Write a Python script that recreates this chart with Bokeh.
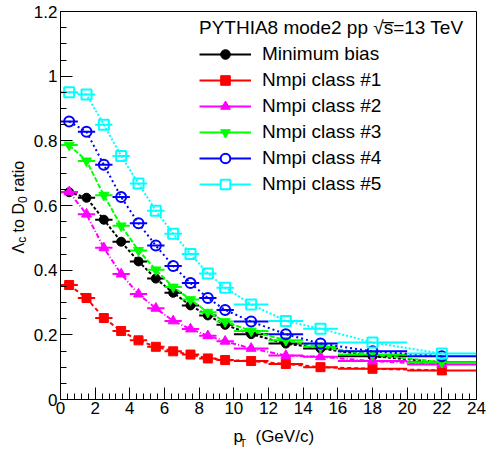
import numpy as np
from bokeh.plotting import figure
from bokeh.layouts import column, row
from bokeh.models import Range1d, FixedTicker, Legend, LegendItem, ColumnDataSource
from bokeh.core.properties import value
from bokeh.embed import file_html
from bokeh.resources import INLINE

# ---- data ----
bin_low = [0, 1, 2, 3, 4, 5, 6, 7, 8, 9, 10, 12, 14, 16, 20]
bin_high = [1, 2, 3, 4, 5, 6, 7, 8, 9, 10, 12, 14, 16, 20, 24]
pt = [0.5, 1.5, 2.5, 3.5, 4.5, 5.5, 6.5, 7.5, 8.5, 9.5, 11, 13, 15, 18, 22]

minimum_bias = [0.641, 0.624, 0.556, 0.488, 0.427, 0.374, 0.330, 0.291, 0.260, 0.231, 0.202, 0.173, 0.158, 0.134, 0.115]
nmpi_1 = [0.354, 0.314, 0.252, 0.212, 0.183, 0.163, 0.149, 0.139, 0.127, 0.122, 0.119, 0.110, 0.100, 0.095, 0.090]
nmpi_2 = [0.642, 0.573, 0.469, 0.388, 0.326, 0.282, 0.243, 0.218, 0.197, 0.180, 0.158, 0.136, 0.132, 0.119, 0.108]
nmpi_3 = [0.787, 0.738, 0.632, 0.537, 0.461, 0.401, 0.348, 0.309, 0.270, 0.241, 0.212, 0.183, 0.163, 0.139, 0.115]
nmpi_4 = [0.860, 0.828, 0.726, 0.626, 0.545, 0.476, 0.413, 0.360, 0.314, 0.277, 0.241, 0.202, 0.173, 0.149, 0.134]
nmpi_5 = [0.950, 0.943, 0.850, 0.753, 0.668, 0.584, 0.513, 0.450, 0.390, 0.346, 0.294, 0.243, 0.219, 0.176, 0.142]

series_names = ["Minimum bias", "Nmpi class #1", "Nmpi class #2",
                "Nmpi class #3", "Nmpi class #4", "Nmpi class #5"]
series_values = [minimum_bias, nmpi_1, nmpi_2, nmpi_3, nmpi_4, nmpi_5]

x_ticks = [0, 2, 4, 6, 8, 10, 12, 14, 16, 18, 20, 22, 24]
x_tick_labels = ["0", "2", "4", "6", "8", "10", "12", "14", "16", "18", "20", "22", "24"]
y_ticks = [0, 0.2, 0.4, 0.6, 0.8, 1.0, 1.2]
y_tick_labels = ["0", "0.2", "0.4", "0.6", "0.8", "1", "1.2"]

legend_title = "PYTHIA8 mode2 pp \u221As\u0305=13 TeV"

# axis title pieces (text with sub-scripts)
y_title_parts = ["\u039B", "c", "to D", "0", "ratio"]
x_title_parts = ["p", "T", "(GeV/c)"]

# ---- styles ----
colors = ["#000000", "#ff0000", "#ff00ff", "#00ff00", "#0000ff", "#00ffff"]
markers = ["circle", "square", "triangle", "inverted_triangle", "circle", "square"]
filled = [True, True, True, True, False, False]
msizes = [9, 9, 10, 10, 10, 10]
lsizes = [8, 8, 8, 8, 9, 9]
dashes = ["3 2", "4 3", "5 2 1 2", "5 2", "2 3", "2 2"]

FONT = "Liberation Sans"
TOP, BOTTOM, LEFT, RIGHT = 11, 21, 29, 10
YLAB_W = 30
P_W, P_H = 456, 420
XLAB_H = 449 - P_H

y_range = Range1d(0, 1.2)
x_range = Range1d(0, 24)

p = figure(width=P_W, height=P_H, output_backend="svg", toolbar_location=None,
           x_range=x_range, y_range=y_range,
           min_border_left=LEFT, min_border_right=RIGHT, min_border_top=TOP, min_border_bottom=BOTTOM)
p.background_fill_color = "white"
p.border_fill_color = "white"
p.outline_line_color = "black"
p.outline_line_width = 1
p.xgrid.visible = False
p.ygrid.visible = False

p.xaxis.ticker = FixedTicker(ticks=x_ticks, minor_ticks=list(np.arange(0, 24.001, 0.4)))
p.yaxis.ticker = FixedTicker(ticks=y_ticks, minor_ticks=list(np.arange(0, 1.2001, 0.05)))
p.xaxis.major_label_overrides = {t: l for t, l in zip(x_ticks, x_tick_labels)}
p.yaxis.major_label_overrides = {t: l for t, l in zip(y_ticks, y_tick_labels)}
for ax in (p.xaxis[0], p.yaxis[0]):
    ax.major_tick_in = 12
    ax.major_tick_out = 0
    ax.minor_tick_in = 6
    ax.minor_tick_out = 0
    ax.major_tick_line_color = "black"
    ax.minor_tick_line_color = "black"
    ax.axis_line_color = "black"
    ax.major_label_text_font = FONT
    ax.major_label_text_font_size = "17px"
    ax.major_label_text_color = "black"
p.xaxis.major_label_standoff = 2
p.yaxis.major_label_standoff = 3

items = []
for name, vals, c, m, f, s, ls, d in zip(series_names, series_values, colors, markers,
                                          filled, msizes, lsizes, dashes):
    src = ColumnDataSource(dict(x=pt, y=vals, x0=bin_low, x1=bin_high))
    seg = p.segment(x0="x0", y0="y", x1="x1", y1="y", source=src, line_color=c, line_width=2)
    p.line(x="x", y="y", source=src, line_color=c, line_width=2, line_dash=d)
    if f:
        p.scatter(x="x", y="y", source=src, marker=m, size=s,
                  fill_color=c, line_color=c, line_width=1)
    else:
        p.scatter(x="x", y="y", source=src, marker=m, size=s,
                  fill_color="white", fill_alpha=0.0, line_color=c, line_width=2)
    # legend-only proxies (no plotted position)
    proxy = ColumnDataSource(dict(x=[np.nan], y=[np.nan]))
    vtick = p.scatter(x="x", y="y", source=proxy, marker="dash", angle=np.pi / 2, size=18,
                      line_color=c, line_width=2)
    lm = p.scatter(x="x", y="y", source=proxy, marker=m, size=ls,
                   fill_color=(c if f else "white"), line_color=c,
                   line_width=(1 if f else 2))
    items.append(LegendItem(label=name, renderers=[seg, vtick, lm]))

legend = Legend(items=items, location=(139, 203), padding=0, margin=0, spacing=2,
                glyph_width=52, glyph_height=24, label_height=24, label_standoff=11,
                label_text_font=FONT, label_text_font_size="19px", label_text_color="black",
                title=legend_title, title_text_font=FONT, title_text_font_size="19px",
                title_text_font_style="normal", title_text_color="black", title_standoff=3,
                background_fill_alpha=0.0, border_line_alpha=0.0)
p.add_layout(legend, "center")

# ---- y title strip (shares the y scale) ----
ylab = figure(width=YLAB_W, height=P_H, output_backend="svg", toolbar_location=None,
              x_range=Range1d(0, YLAB_W), y_range=y_range,
              min_border_left=0, min_border_right=0, min_border_top=TOP, min_border_bottom=BOTTOM)
ylab.axis.visible = False
ylab.grid.visible = False
ylab.outline_line_color = None
ylab_src = ColumnDataSource(dict(
    x=[18, 21.5, 18, 21.5, 18],
    y=[0.4516, 0.4846, 0.5168, 0.6077, 0.6421],
    text=y_title_parts,
    size=["16px", "12px", "16px", "12px", "16px"]))
ylab.text(x="x", y="y", text="text", source=ylab_src, angle=np.pi / 2,
          text_font=value(FONT), text_font_size="size", text_color="black",
          text_align="left", text_baseline="alphabetic")

# ---- x title strip (shares the x scale) ----
xlab = figure(width=YLAB_W + P_W, height=XLAB_H, output_backend="svg", toolbar_location=None,
              x_range=x_range, y_range=Range1d(0, XLAB_H),
              min_border_left=YLAB_W + LEFT, min_border_right=RIGHT, min_border_top=0, min_border_bottom=0)
xlab.axis.visible = False
xlab.grid.visible = False
xlab.outline_line_color = None
xlab_src = ColumnDataSource(dict(
    x=[10.01, 10.39, 11.28],
    y=[13, 6, 13],
    text=x_title_parts,
    size=["17px", "10px", "17px"]))
xlab.text(x="x", y="y", text="text", source=xlab_src,
          text_font=value(FONT), text_font_size="size", text_color="black",
          text_align="left", text_baseline="alphabetic")

layout = column(row(ylab, p, spacing=0), xlab, spacing=0)
open("out.html", "w").write(file_html(layout, INLINE))
